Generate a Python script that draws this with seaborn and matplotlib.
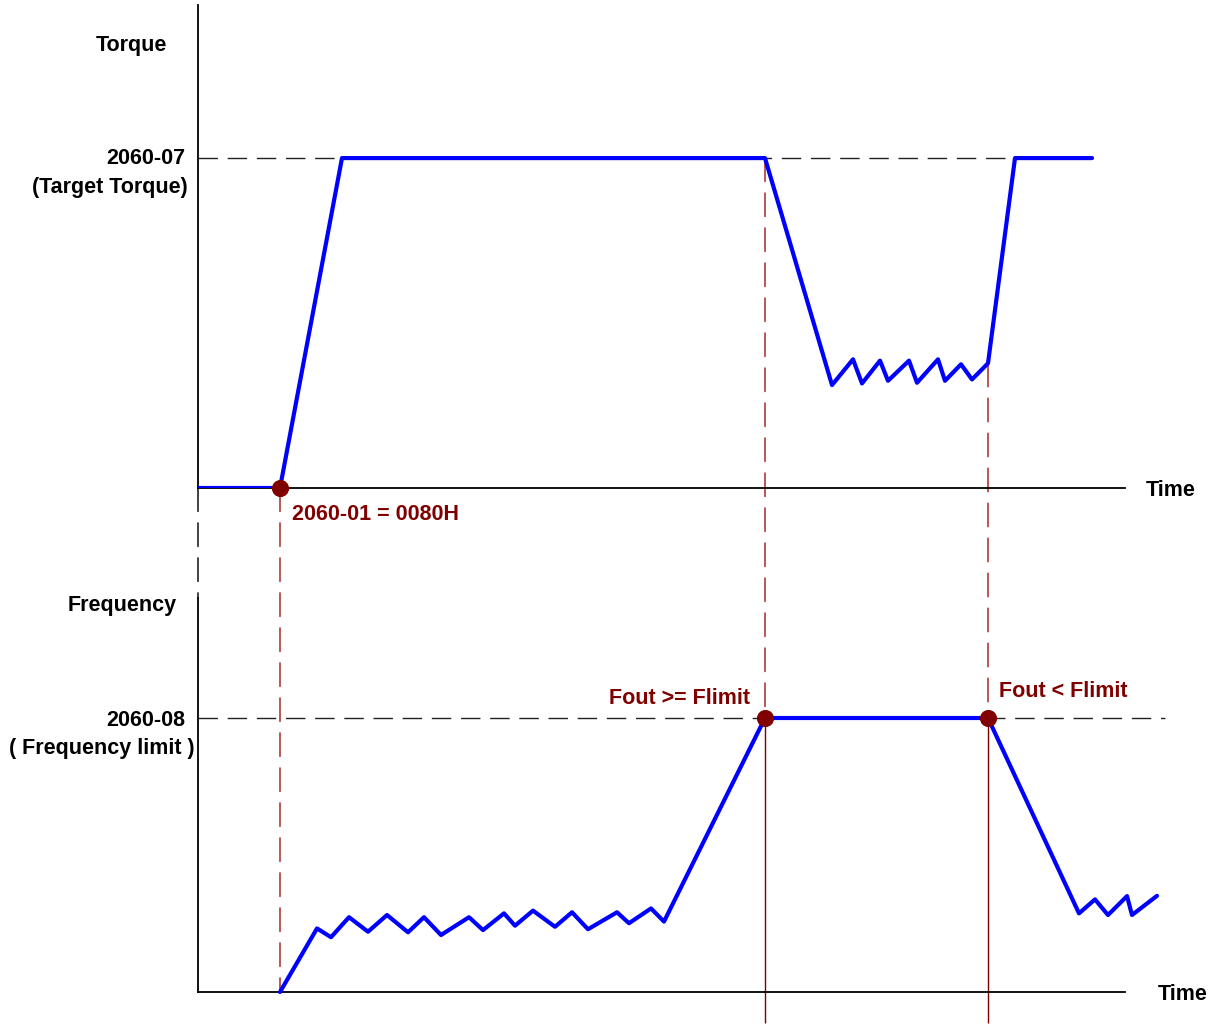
import pandas as pd
import seaborn as sns
import matplotlib.pyplot as plt
from matplotlib.patches import ConnectionPatch

# time axis in arbitrary units (10 px per unit in the output)
torque_t = [0, 8.2, 14.4, 56.7, 63.4, 65.5, 66.4, 68.2, 69.0, 71.1, 71.9, 74.0,
            74.7, 76.3, 77.4, 79.0, 81.7, 89.4]
torque_v = [0, 0, 100, 100, 31.2, 39.0, 31.7, 38.6, 32.5, 38.6, 31.9, 39.0,
            32.5, 37.5, 32.9, 37.8, 100, 100]

freq_t = [8.2, 11.9, 13.3, 15.1, 17.0, 18.9, 21.0, 22.6, 24.3, 27.1, 28.5, 30.6,
          31.7, 33.5, 35.7, 37.4, 39.0, 41.9, 43.1, 45.3, 46.6, 56.7, 79.0,
          88.1, 89.7, 91.0, 92.9, 93.4, 95.9]
freq_v = [0, 23.2, 20.0, 27.3, 22.0, 28.1, 21.8, 27.3, 20.8, 27.3, 22.6, 28.7,
          24.2, 29.7, 23.8, 29.1, 22.9, 29.1, 25.1, 30.5, 25.7, 100, 100,
          28.7, 33.8, 28.1, 35.0, 28.1, 35.1]

target_torque = 100
freq_limit = 100
t_enable = 8.2     # 2060-01 = 0080H
t_reach = 56.7     # Fout >= Flimit
t_release = 79.0   # Fout < Flimit
torque_at_release = 37.8
axis_end = 92.7
target_line_end = 89.5
limit_line_end = 96.7

BLUE = "#0000ff"
DARKRED = "#800000"
DASHRED = "#b03a3a"
DASH = (0, (14, 7))

sns.set_theme(style="white")
plt.rcParams['font.family'] = ['Liberation Sans', 'DejaVu Sans']

fig = plt.figure(figsize=(12.13, 10.24), dpi=100)
ax_top = fig.add_axes([198 / 1213, 536 / 1024, 1000 / 1213, 483 / 1024])
ax_bot = fig.add_axes([198 / 1213, 32 / 1024, 1000 / 1213, 394 / 1024])

torque_df = pd.DataFrame({"t": torque_t, "v": torque_v})
freq_df = pd.DataFrame({"t": freq_t, "v": freq_v})

for ax, ymax in [(ax_top, 146.4), (ax_bot, 143.8)]:
    ax.set_xlim(0, 100)
    ax.set_ylim(0, ymax)
    ax.set_xticks([])
    ax.set_yticks([])
    ax.patch.set_alpha(0)
    for side in ["top", "right"]:
        ax.spines[side].set_visible(False)
    for side in ["left", "bottom"]:
        ax.spines[side].set_color("black")
        ax.spines[side].set_linewidth(1.3)
    ax.spines["bottom"].set_bounds(0, axis_end)

# reference levels
ax_top.plot([0, target_line_end], [target_torque, target_torque], color="#222222",
            lw=1, ls=DASH, zorder=1)
ax_bot.plot([0, limit_line_end], [freq_limit, freq_limit], color="#222222",
            lw=1, ls=DASH, zorder=1, clip_on=False)

# curves
sns.lineplot(data=torque_df, x="t", y="v", ax=ax_top, sort=False, estimator=None,
             color=BLUE, lw=3, zorder=3)
sns.lineplot(data=freq_df, x="t", y="v", ax=ax_bot, sort=False, estimator=None,
             color=BLUE, lw=3, zorder=3, clip_on=False)
ax_top.set_xlabel(""); ax_top.set_ylabel("")
ax_bot.set_xlabel(""); ax_bot.set_ylabel("")

# vertical guides between the two panels
def link(xa, ya, xb, yb, color, lw):
    con = ConnectionPatch(xyA=(xa, ya), coordsA=ax_top.transData,
                          xyB=(xb, yb), coordsB=ax_bot.transData,
                          color=color, lw=lw, linestyle=DASH, zorder=0)
    fig.add_artist(con)

link(0, 0, 0, 143.8, "#222222", 1.2)
link(t_enable, 0, t_enable, 0, DASHRED, 1.2)
link(t_reach, target_torque, t_reach, freq_limit, DASHRED, 1.2)
link(t_release, torque_at_release, t_release, freq_limit, DASHRED, 1.2)
ax_bot.vlines([t_reach, t_release], -11.3, freq_limit, color=DARKRED, lw=1,
              clip_on=False, zorder=1)

# event markers
sns.scatterplot(x=[t_enable], y=[0], ax=ax_top, color=DARKRED, s=130,
                edgecolor=DARKRED, zorder=5, clip_on=False)
sns.scatterplot(x=[t_reach, t_release], y=[freq_limit, freq_limit], ax=ax_bot,
                color=DARKRED, s=130, edgecolor=DARKRED, zorder=5, clip_on=False)

# labels
txt = dict(fontsize=15.5, fontweight="bold", textcoords="offset pixels",
           annotation_clip=False)
blk = dict(color="black", **txt)
red = dict(color=DARKRED, **txt)
ytr_top = ax_top.get_yaxis_transform()
ytr_bot = ax_bot.get_yaxis_transform()
ax_top.annotate("Torque", xy=(0, 134.2), xycoords=ytr_top, xytext=(-31, 0),
                ha="right", va="center", **blk)
ax_top.annotate("2060-07", xy=(0, target_torque), xycoords=ytr_top, xytext=(-13, 0),
                ha="right", va="center", **blk)
ax_top.annotate("(Target Torque)", xy=(0, target_torque), xycoords=ytr_top,
                xytext=(-10, -29), ha="right", va="center", **blk)
ax_top.annotate("Time", xy=(axis_end, 0), xytext=(21, -3), ha="left", va="center", **blk)
ax_top.annotate("2060-01 = 0080H", xy=(t_enable, 0), xytext=(12, -27), ha="left",
                va="center", **red)

ax_bot.annotate("Frequency", xy=(0, 143.8), xycoords=ytr_bot, xytext=(-21, -8),
                ha="right", va="center", **blk)
ax_bot.annotate("2060-08", xy=(0, freq_limit), xycoords=ytr_bot, xytext=(-13, -2),
                ha="right", va="center", **blk)
ax_bot.annotate("( Frequency limit )", xy=(0, freq_limit), xycoords=ytr_bot,
                xytext=(-3, -30), ha="right", va="center", **blk)
ax_bot.annotate("Fout >= Flimit", xy=(t_reach, freq_limit), xytext=(-15, 20),
                ha="right", va="center", **red)
ax_bot.annotate("Fout < Flimit", xy=(t_release, freq_limit), xytext=(11, 27),
                ha="left", va="center", **red)
ax_bot.annotate("Time", xy=(axis_end, 0), xytext=(33, -3), ha="left", va="center", **blk)

fig.savefig("out.png", dpi=100, facecolor="white")
